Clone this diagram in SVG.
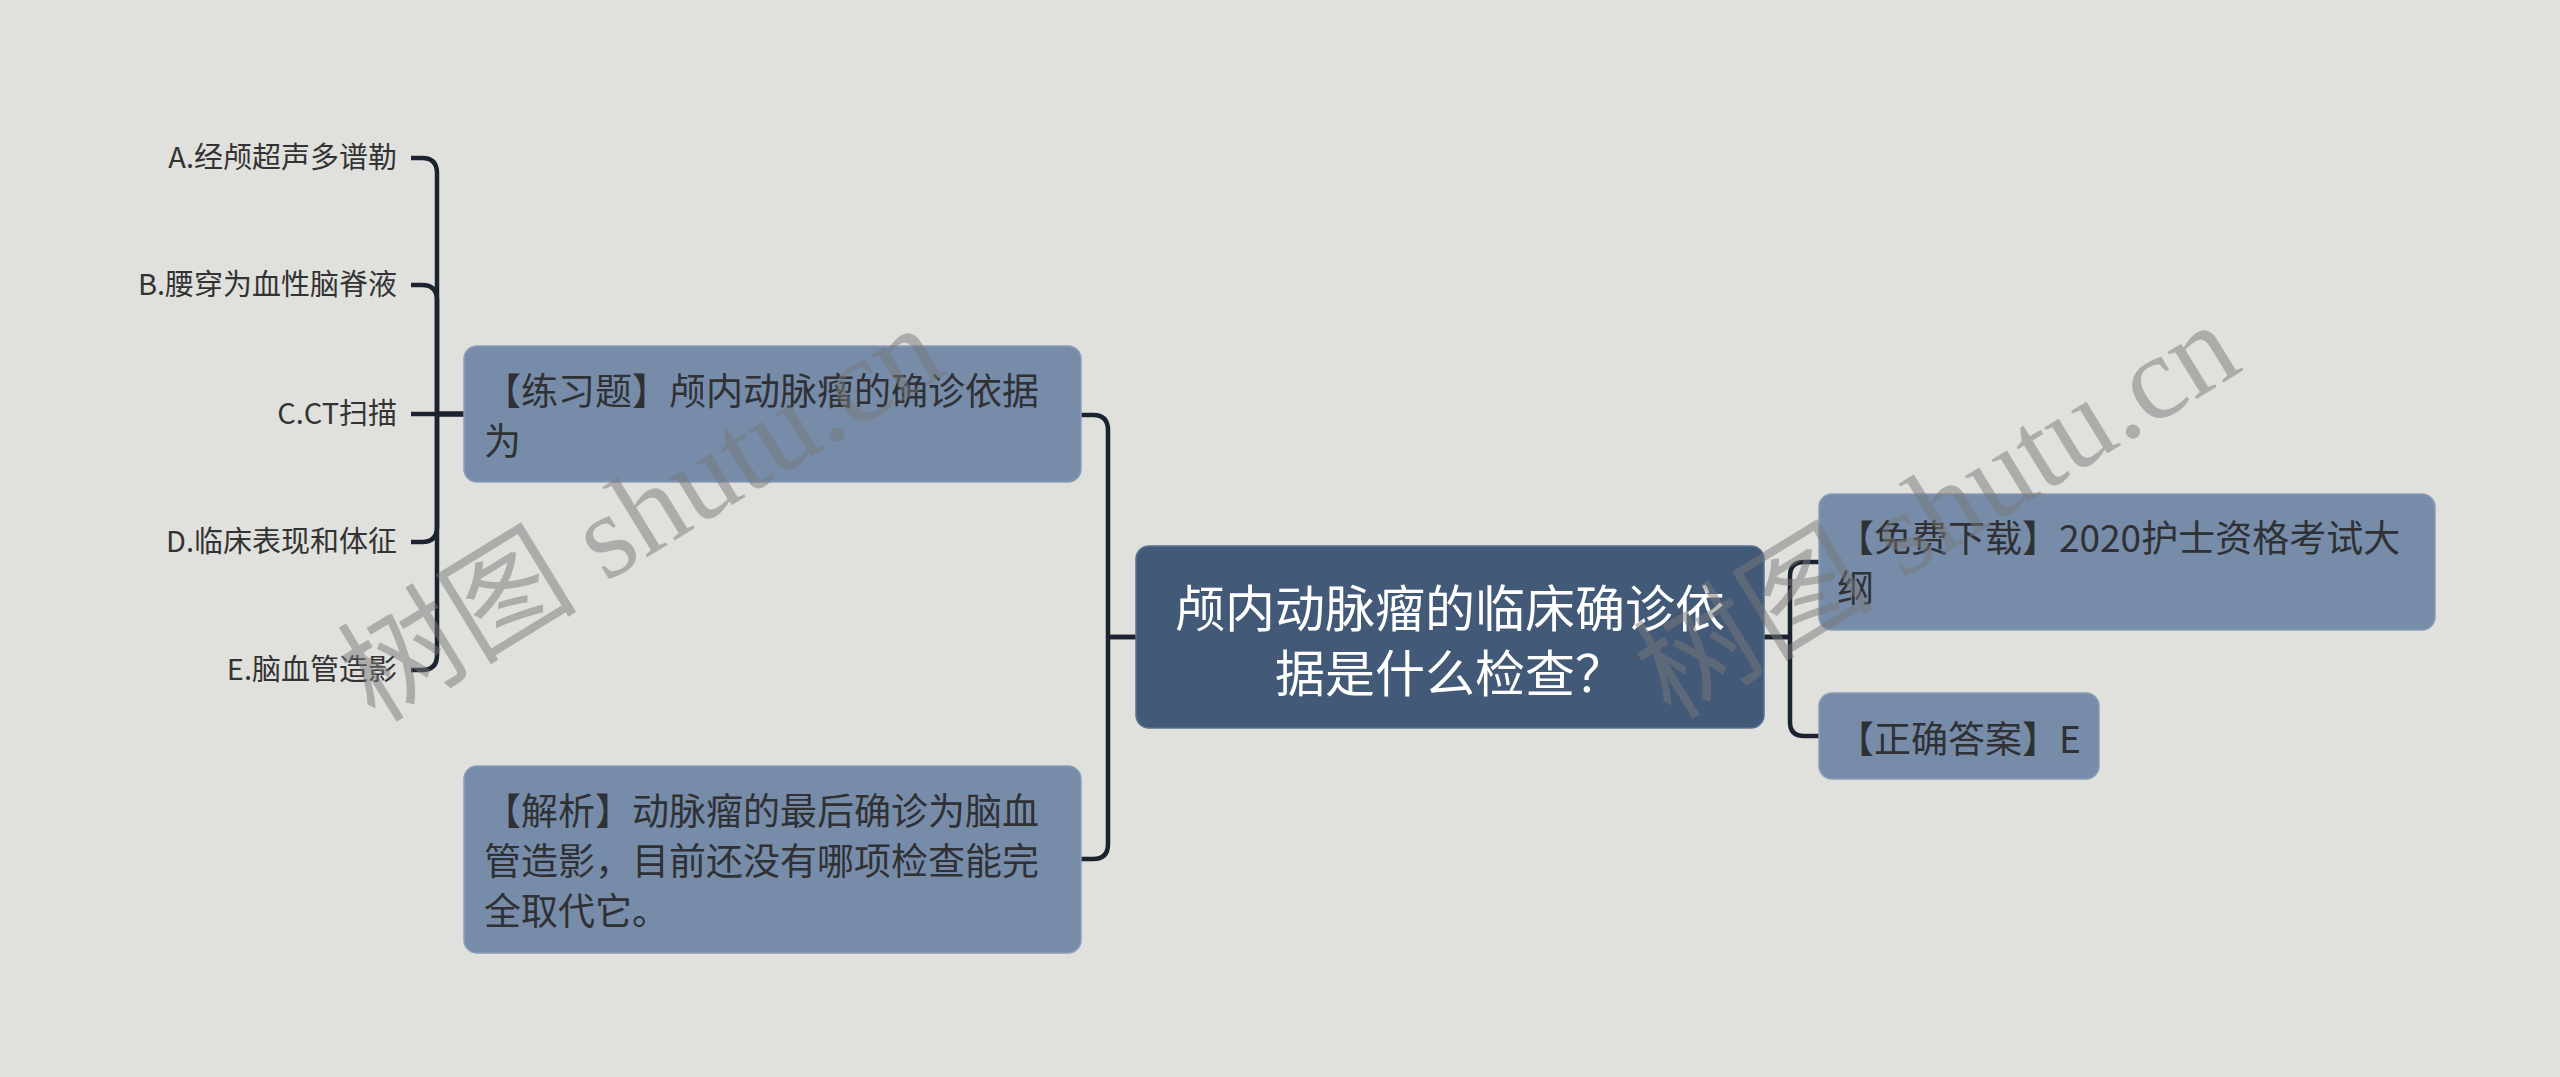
<svg xmlns="http://www.w3.org/2000/svg" width="2560" height="1077" viewBox="0 0 2560 1077">
  <style>
    .bg { fill: #e0e1dd; }
    .conn { fill: none; stroke: #1b2230; stroke-width: 4.5; stroke-linecap: butt; stroke-linejoin: round; }
    .leaf { font-family: "Noto Sans CJK SC", "Liberation Sans", sans-serif; font-size: 29px; fill: #333333; text-anchor: end; }
    .sub { fill: #778ca9; stroke: #8a9dba; stroke-width: 1.5; }
    .subt { font-family: "Noto Sans CJK SC", "Liberation Sans", sans-serif; font-size: 37px; fill: #2f3135; }
    .root { fill: #425a78; stroke: #5a7190; stroke-width: 1.5; }
    .roott { font-family: "Noto Sans CJK SC", "Liberation Sans", sans-serif; font-size: 50px; fill: #ffffff; text-anchor: middle; }
    .wm { font-size: 120px; fill: #787878; fill-opacity: 0.5; text-anchor: middle; }
    .wmcjk { font-family: "Noto Sans CJK SC", sans-serif; }
    .wmlat { font-family: "Liberation Serif", serif; }
  </style>
  <rect class="bg" x="0" y="0" width="2560" height="1077"/>

  <g id="connectors">
    <path class="conn" d="M 464 414 H 437 V 173 Q 437 158 422 158 H 411"/>
    <path class="conn" d="M 464 414 H 437 V 300 Q 437 285 422 285 H 411"/>
    <path class="conn" d="M 464 414 H 411"/>
    <path class="conn" d="M 464 414 H 437 V 527 Q 437 542 422 542 H 411"/>
    <path class="conn" d="M 464 414 H 437 V 655 Q 437 670 422 670 H 411"/>
    <path class="conn" d="M 1136 637 H 1108 V 430 Q 1108 415 1093 415 H 1081"/>
    <path class="conn" d="M 1136 637 H 1108 V 844 Q 1108 859 1093 859 H 1081"/>
    <path class="conn" d="M 1764 637 H 1790 V 576 Q 1790 562 1804 562 H 1819"/>
    <path class="conn" d="M 1764 637 H 1790 V 722 Q 1790 736 1804 736 H 1819"/>
  </g>

  <g id="root">
    <rect class="root" x="1136" y="546" width="628" height="182" rx="13" ry="13"/>
    <text class="roott" x="1450" y="627">颅内动脉瘤的临床确诊依</text>
    <text class="roott" x="1450" y="692">据是什么检查？</text>
  </g>

  <g id="question">
    <rect class="sub" x="464" y="346" width="617" height="136" rx="13" ry="13"/>
    <text class="subt" x="484" y="405">【练习题】颅内动脉瘤的确诊依据</text>
    <text class="subt" x="484" y="455">为</text>
  </g>

  <g id="analysis">
    <rect class="sub" x="464" y="766" width="617" height="187" rx="13" ry="13"/>
    <text class="subt" x="484" y="825">【解析】动脉瘤的最后确诊为脑血</text>
    <text class="subt" x="484" y="875">管造影，目前还没有哪项检查能完</text>
    <text class="subt" x="484" y="925">全取代它。</text>
  </g>

  <g id="download">
    <rect class="sub" x="1819" y="494" width="616" height="136" rx="13" ry="13"/>
    <text class="subt" x="1837" y="552">【免费下载】2020护士资格考试大</text>
    <text class="subt" x="1837" y="602">纲</text>
  </g>

  <g id="answer">
    <rect class="sub" x="1819" y="693" width="280" height="86" rx="13" ry="13"/>
    <text class="subt" x="1837" y="753">【正确答案】E</text>
  </g>

  <g id="optA"><text class="leaf" x="397" y="168">A.经颅超声多谱勒</text></g>
  <g id="optB"><text class="leaf" x="397" y="295">B.腰穿为血性脑脊液</text></g>
  <g id="optC"><text class="leaf" x="397" y="424">C.CT扫描</text></g>
  <g id="optD"><text class="leaf" x="397" y="552">D.临床表现和体征</text></g>
  <g id="optE"><text class="leaf" x="397" y="680">E.脑血管造影</text></g>

  <g id="watermark">
    <text class="wm" transform="translate(662 548) rotate(-31.5)"><tspan class="wmcjk">树图</tspan><tspan class="wmlat"> shutu.cn</tspan></text>
    <text class="wm" transform="translate(1958 545) rotate(-31.5)"><tspan class="wmcjk">树图</tspan><tspan class="wmlat"> shutu.cn</tspan></text>
  </g>
</svg>
